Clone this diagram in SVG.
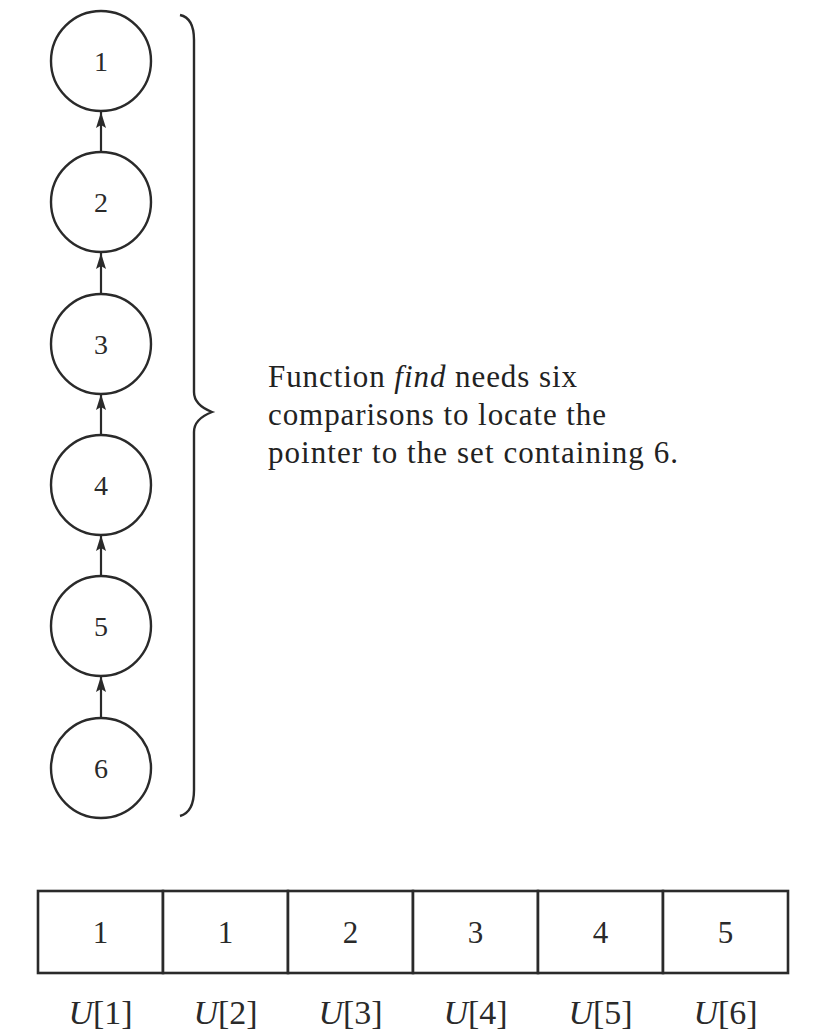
<svg xmlns="http://www.w3.org/2000/svg" width="836" height="1036" viewBox="0 0 836 1036">
<style>
.node circle{fill:#fff;stroke:#2a2a2a;stroke-width:2.4}
.lbl{font-family:"Liberation Serif",serif;font-size:28px;fill:#2a2a2a;text-anchor:middle}
.conn line{stroke:#2a2a2a;stroke-width:2.2}
.cell rect{fill:#fff;stroke:#2a2a2a;stroke-width:2.6}
.num{font-family:"Liberation Serif",serif;font-size:31px;fill:#2a2a2a;text-anchor:middle}
.note{font-family:"Liberation Serif",serif;font-size:31px;fill:#222}
.idx{font-family:"Liberation Serif",serif;font-size:34px;fill:#2a2a2a;text-anchor:middle}
</style>
<defs>
<marker id="ah" viewBox="0 0 16 10" refX="16" refY="5" markerWidth="16" markerHeight="10" markerUnits="userSpaceOnUse" orient="auto">
<path d="M0,0 L16,5 L0,10 L3,5 z" fill="#2a2a2a"/>
</marker>
</defs>
<rect width="836" height="1036" fill="#fff"/>
<g id="connectors" class="conn">
<line x1="101" y1="152" x2="101" y2="112" marker-end="url(#ah)"/>
<line x1="101" y1="293" x2="101" y2="253" marker-end="url(#ah)"/>
<line x1="101" y1="435" x2="101" y2="394" marker-end="url(#ah)"/>
<line x1="101" y1="576" x2="101" y2="535" marker-end="url(#ah)"/>
<line x1="101" y1="718" x2="101" y2="676" marker-end="url(#ah)"/>
</g>
<g id="node1" class="node"><circle cx="101" cy="61" r="50"/><text class="lbl" x="101" y="71">1</text></g>
<g id="node2" class="node"><circle cx="101" cy="202" r="50"/><text class="lbl" x="101" y="212">2</text></g>
<g id="node3" class="node"><circle cx="101" cy="344" r="50"/><text class="lbl" x="101" y="354">3</text></g>
<g id="node4" class="node"><circle cx="101" cy="485" r="50"/><text class="lbl" x="101" y="495">4</text></g>
<g id="node5" class="node"><circle cx="101" cy="626" r="50"/><text class="lbl" x="101" y="636">5</text></g>
<g id="node6" class="node"><circle cx="101" cy="768" r="50"/><text class="lbl" x="101" y="778">6</text></g>
<g id="brace">
<path d="M180,15 Q194,18 194,40 L194,392 Q194,405 212,412 Q194,419 194,432 L194,790 Q194,812 180,816" fill="none" stroke="#2a2a2a" stroke-width="2.4"/>
</g>
<g id="note">
<text class="note" x="268" y="387" textLength="309" lengthAdjust="spacing">Function <tspan font-style="italic">find</tspan> needs six</text>
<text class="note" x="268" y="425" textLength="338" lengthAdjust="spacing">comparisons to locate the</text>
<text class="note" x="268" y="463" textLength="410" lengthAdjust="spacing">pointer to the set containing 6.</text>
</g>
<g id="array">
<g class="cell"><rect x="38" y="891" width="125" height="82"/><text class="num" x="100.5" y="943">1</text><text class="idx" x="100.5" y="1024"><tspan font-style="italic">U</tspan>[1]</text></g>
<g class="cell"><rect x="163" y="891" width="125" height="82"/><text class="num" x="225.5" y="943">1</text><text class="idx" x="225.5" y="1024"><tspan font-style="italic">U</tspan>[2]</text></g>
<g class="cell"><rect x="288" y="891" width="125" height="82"/><text class="num" x="350.5" y="943">2</text><text class="idx" x="350.5" y="1024"><tspan font-style="italic">U</tspan>[3]</text></g>
<g class="cell"><rect x="413" y="891" width="125" height="82"/><text class="num" x="475.5" y="943">3</text><text class="idx" x="475.5" y="1024"><tspan font-style="italic">U</tspan>[4]</text></g>
<g class="cell"><rect x="538" y="891" width="125" height="82"/><text class="num" x="600.5" y="943">4</text><text class="idx" x="600.5" y="1024"><tspan font-style="italic">U</tspan>[5]</text></g>
<g class="cell"><rect x="663" y="891" width="125" height="82"/><text class="num" x="725.5" y="943">5</text><text class="idx" x="725.5" y="1024"><tspan font-style="italic">U</tspan>[6]</text></g>
</g>
</svg>
